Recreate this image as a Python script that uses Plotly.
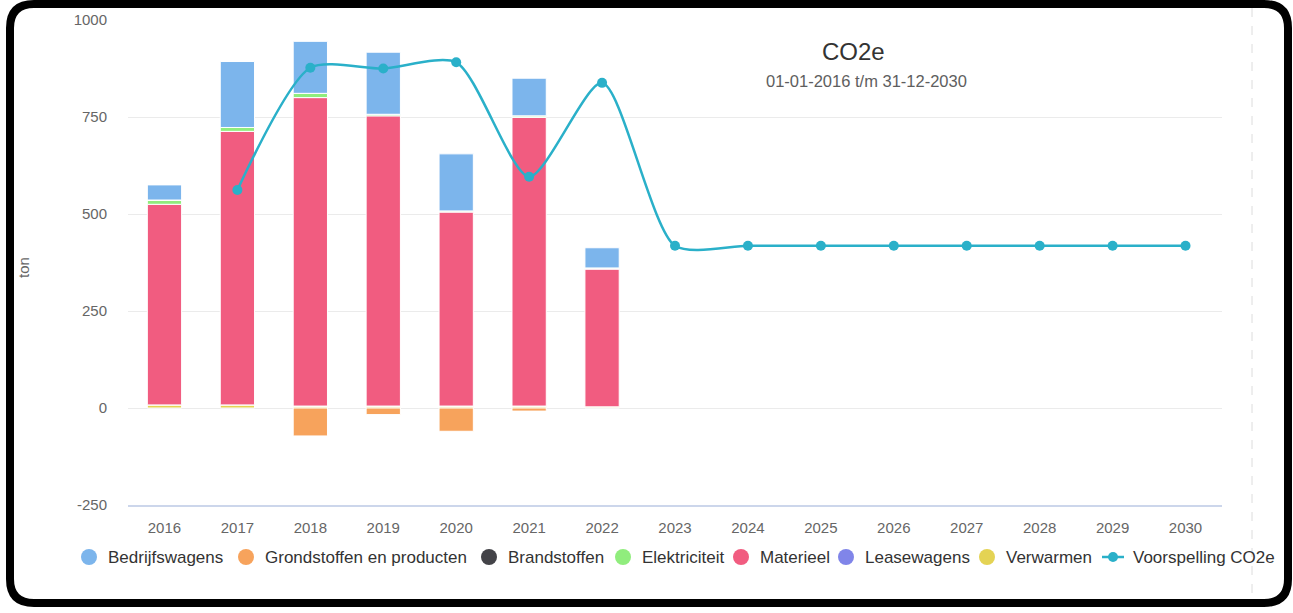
import plotly.graph_objects as go

# ---------------- data ----------------
years = [str(y) for y in range(2016, 2031)]
bedrijfswagens = [39, 170, 134, 160, 147, 97, 52] + [None] * 8
grondstoffen = [0, 0, -72, -17, -60, -8, 0] + [None] * 8
brandstoffen = [0, 0, 0, 0, 0, 0, 0] + [None] * 8
elektriciteit = [11, 10, 11, 4, 3, 4, 3] + [None] * 8
materieel = [517, 705, 795, 748, 500, 744, 355] + [None] * 8
leasewagens = [0, 0, 0, 0, 0, 0, 0] + [None] * 8
verwarmen = [8, 8, 5, 5, 5, 5, 3] + [None] * 8
voorspelling = [None, 562, 877, 875, 891, 596, 838, 418, 418, 418, 418, 418, 418, 418, 418]

series_names = ["Bedrijfswagens", "Grondstoffen en producten", "Brandstoffen",
                "Elektriciteit", "Materieel", "Leasewagens", "Verwarmen"]
series_values = [bedrijfswagens, grondstoffen, brandstoffen, elektriciteit,
                 materieel, leasewagens, verwarmen]
series_colors = ["#7cb5ec", "#f7a35c", "#434348", "#90ed7d", "#f15c80", "#8085e9", "#e4d354"]
line_name = "Voorspelling CO2e"
line_color = "#2ab0c9"

y_tickvals = [-250, 0, 250, 500, 750, 1000]
y_ticktext = ["-250", "0", "250", "500", "750", "1000"]

title_text = "CO2e"
subtitle_text = "01-01-2016 t/m 31-12-2030"
y_title = "ton"

FONT = "Liberation Sans, Arial, sans-serif"

W, H = 1293, 613
L, R, T, B = 128, 71, 20, 108
PW, PH = W - L - R, H - T - B


def px(x):
    return (x - L) / PW


def py(y):
    return (H - B - y) / PH


fig = go.Figure()

# bars: stacked bottom-up in reverse legend order (first legend item on top)
for i in reversed(range(len(series_names))):
    fig.add_trace(go.Bar(
        x=years, y=series_values[i], name=series_names[i],
        marker=dict(color=series_colors[i], line=dict(color="white", width=1)),
        showlegend=False, hoverinfo="skip",
    ))

fig.add_trace(go.Scatter(
    x=years, y=voorspelling, name=line_name, mode="lines+markers",
    line=dict(color=line_color, width=2.5, shape="spline", smoothing=0.7),
    marker=dict(color=line_color, size=10),
    showlegend=False, connectgaps=False, hoverinfo="skip",
))

# rounded black frame
x0, x1, y0, y1, r = 10, 1288, 4, 603, 24
path = (
    f"M {px(x0 + r)},{py(y0)} L {px(x1 - r)},{py(y0)} "
    f"Q {px(x1)},{py(y0)} {px(x1)},{py(y0 + r)} "
    f"L {px(x1)},{py(y1 - r)} Q {px(x1)},{py(y1)} {px(x1 - r)},{py(y1)} "
    f"L {px(x0 + r)},{py(y1)} Q {px(x0)},{py(y1)} {px(x0)},{py(y1 - r)} "
    f"L {px(x0)},{py(y0 + r)} Q {px(x0)},{py(y0)} {px(x0 + r)},{py(y0)} Z"
)
shapes = [
    dict(type="line", xref="paper", yref="paper", x0=px(1252), x1=px(1252),
         y0=py(8), y1=py(600), line=dict(color="#dcdcdc", width=1, dash="dash"), layer="below"),
    dict(type="path", xref="paper", yref="paper", path=path,
         line=dict(color="black", width=8), fillcolor="rgba(0,0,0,0)"),
]

annotations = [
    dict(text=title_text, x=px(853), y=py(52), xref="paper", yref="paper",
         showarrow=False, xanchor="center", yanchor="middle",
         font=dict(family=FONT, size=24, color="#333333")),
    dict(text=subtitle_text, x=px(866), y=py(81), xref="paper", yref="paper",
         showarrow=False, xanchor="center", yanchor="middle",
         font=dict(family=FONT, size=16.5, color="#5e5e5e")),
    dict(text=y_title, x=px(23), y=py(268), xref="paper", yref="paper",
         showarrow=False, xanchor="center", yanchor="middle", textangle=-90,
         font=dict(family=FONT, size=15, color="#666666")),
]

# legend (Highcharts style: circle symbols, single row)
legend_cy = 557
legend_symbol_x = [89, 246, 489, 623, 741, 846, 987]
for name, color, cx in zip(series_names, series_colors, legend_symbol_x):
    shapes.append(dict(type="circle", xref="paper", yref="paper",
                       xsizemode="pixel", ysizemode="pixel",
                       xanchor=px(cx), yanchor=py(legend_cy),
                       x0=-8, x1=8, y0=-8, y1=8,
                       fillcolor=color, line=dict(width=0)))
    annotations.append(dict(text=name, x=px(cx + 17), y=py(legend_cy), xref="paper", yref="paper",
                            showarrow=False, xanchor="left", yanchor="middle",
                            font=dict(family=FONT, size=17, color="#333333")))
line_cx = 1113
shapes.append(dict(type="line", xref="paper", yref="paper",
                   x0=px(line_cx - 11), x1=px(line_cx + 11), y0=py(legend_cy), y1=py(legend_cy),
                   line=dict(color=line_color, width=2.5)))
shapes.append(dict(type="circle", xref="paper", yref="paper",
                   xsizemode="pixel", ysizemode="pixel",
                   xanchor=px(line_cx), yanchor=py(legend_cy),
                   x0=-5, x1=5, y0=-5, y1=5, fillcolor=line_color, line=dict(width=0)))
annotations.append(dict(text=line_name, x=px(line_cx + 18), y=py(legend_cy), xref="paper", yref="paper",
                        showarrow=False, xanchor="left", yanchor="middle",
                        font=dict(family=FONT, size=17, color="#333333")))

fig.update_layout(
    width=W, height=H,
    margin=dict(l=L, r=R, t=T, b=B, pad=0),
    paper_bgcolor="white", plot_bgcolor="white",
    barmode="relative", bargap=0.53,
    font=dict(family=FONT, color="#666666"),
    shapes=shapes, annotations=annotations,
    showlegend=False, hovermode=False,
    xaxis=dict(type="category", categoryorder="array", categoryarray=years,
               range=[-0.5, 14.5], showgrid=False, showline=True, linecolor="#ccd6eb",
               linewidth=1.5, ticks="", ticklabelstandoff=8,
               tickfont=dict(family=FONT, size=15, color="#666666"), zeroline=False),
    yaxis=dict(range=[-250, 1000], tickvals=y_tickvals, ticktext=y_ticktext,
               showgrid=True, gridcolor="#ebebeb", gridwidth=1, zeroline=False,
               showline=False, ticks="", ticklabelstandoff=20,
               tickfont=dict(family=FONT, size=15, color="#666666")),
)

fig.write_html("out.html", config={"displayModeBar": False},
               post_script="document.body.style.margin='0';")
